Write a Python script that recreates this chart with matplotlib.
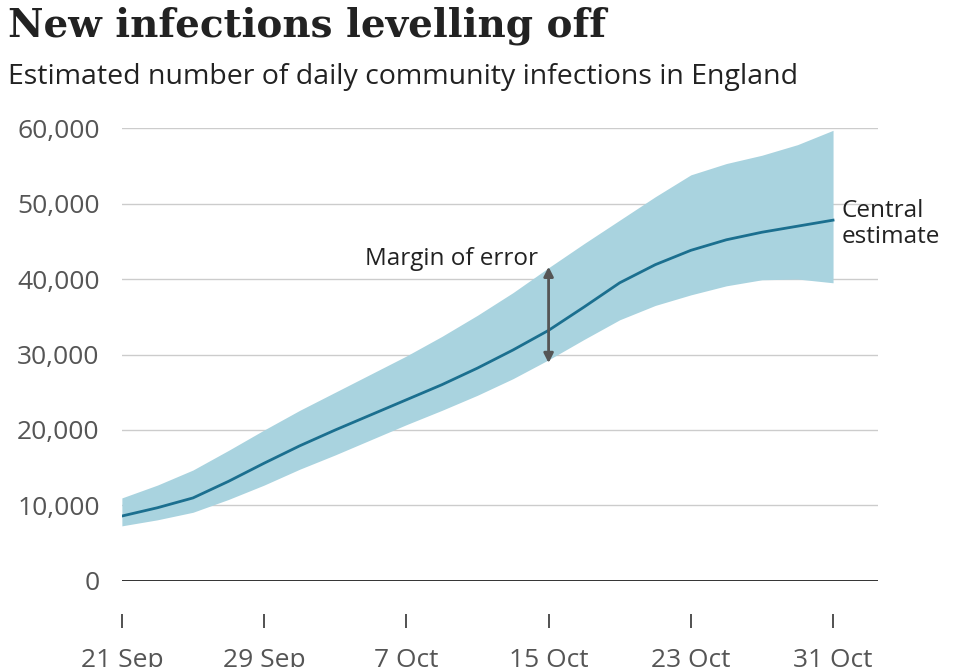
import matplotlib
matplotlib.use("Agg")
import matplotlib.pyplot as plt
import numpy as np

# days since 21 Sep
days = [0, 2, 4, 6, 8, 10, 12, 14, 16, 18, 20, 22, 24, 26, 28, 30, 32, 34, 36, 38, 40]
central = [8600, 9700, 11000, 13200, 15600, 17900, 20000, 22000, 24000, 26000, 28200,
           30600, 33200, 36300, 39500, 41900, 43800, 45200, 46200, 47000, 47800]
upper = [11000, 12700, 14700, 17300, 20000, 22600, 25000, 27400, 29800, 32400, 35200,
         38200, 41500, 44700, 47800, 50900, 53800, 55300, 56400, 57800, 59700]
lower = [7300, 8100, 9100, 10800, 12700, 14800, 16700, 18700, 20700, 22600, 24600,
         26800, 29300, 32000, 34600, 36500, 37900, 39100, 39900, 40000, 39500]
tick_days = [0, 8, 16, 24, 32, 40]
tick_labels = ["21 Sep", "29 Sep", "7 Oct", "15 Oct", "23 Oct", "31 Oct"]
y_ticks = [0, 10000, 20000, 30000, 40000, 50000, 60000]

plt.rcParams["font.family"] = ["Open Sans", "DejaVu Sans"]
fig = plt.figure(figsize=(9.75, 6.67), dpi=100)
ax = fig.add_axes([0.125, 0.129, 0.775, 0.679])

for v in y_ticks[1:]:
    ax.axhline(v, color="#cccccc", lw=1, zorder=0)
ax.axhline(0, color="#222222", lw=1.3, zorder=3)

ax.fill_between(days, lower, upper, color="#a9d3df", lw=0, zorder=1)
ax.plot(days, central, color="#1b6f8f", lw=2, zorder=2)

ax.annotate("", xy=(24, 28500), xytext=(24, 42000),
            arrowprops=dict(arrowstyle="<|-|>", color="#555555", lw=2, mutation_scale=14))
ax.text(23.4, 42600, "Margin of error", ha="right", va="center", fontsize=17.5, color="#222222")
ax.text(40.5, 47300, "Central\nestimate", ha="left", va="center", fontsize=17.5,
        color="#222222", linespacing=1.15)

ax.set_xlim(0, 42.5)
ax.set_ylim(0, 60000)
ax.set_yticks(y_ticks)
ax.set_yticklabels([f"{v:,}" for v in y_ticks])
ax.tick_params(axis="y", length=0, pad=16, labelsize=19, labelcolor="#555555")
ax.set_xticks(tick_days)
ax.set_xticklabels(tick_labels)
ax.tick_params(axis="x", length=10, width=1.2, color="#333333", pad=14,
               labelsize=19, labelcolor="#555555")
for s in ["top", "right", "left"]:
    ax.spines[s].set_visible(False)
ax.spines["bottom"].set_position(("outward", 24))
ax.spines["bottom"].set_visible(False)

fig.text(0.008, 0.962, "New infections levelling off", fontsize=28, fontweight="bold",
         family=["DejaVu Serif"], va="center", color="#222222")
fig.text(0.008, 0.884, "Estimated number of daily community infections in England",
         fontsize=20.5, va="center", color="#222222")

fig.savefig("out.png", dpi=100)
